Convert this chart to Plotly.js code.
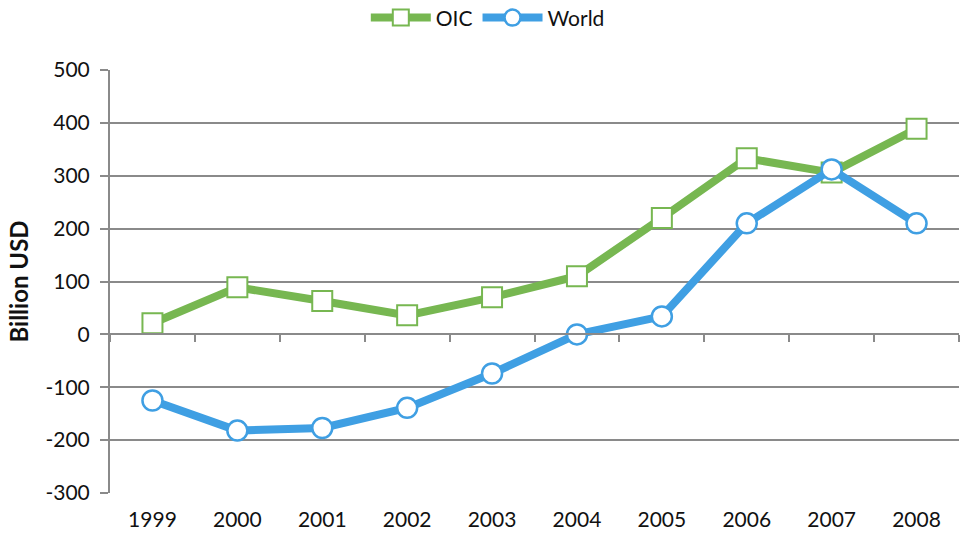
<!DOCTYPE html>
<html>
<head>
<meta charset="utf-8">
<script src="https://cdn.plot.ly/plotly-3.0.1.min.js"></script>
<style>html,body{margin:0;padding:0;background:#fff;}#chart{width:962px;height:533px;}</style>
</head>
<body>
<div id="chart"></div>
<script>
const years = ["1999","2000","2001","2002","2003","2004","2005","2006","2007","2008"];
const oic = [21, 89, 63, 36, 70, 110, 220, 333, 306, 389];
const world = [-125, -182, -177, -139, -74, 0, 34, 210, 312, 210];
const yTicks = [-300, -200, -100, 0, 100, 200, 300, 400, 500];

const green = "#77b751";
const blue = "#3f9fe3";
const grey = "#8a8a8a";
const font = "Lato, 'Open Sans', sans-serif";

const traces = [
  {x: years, y: oic, name: "OIC", type: "scatter", mode: "lines+markers",
   line: {color: green, width: 8},
   marker: {symbol: "square", size: 20, color: "#ffffff", line: {color: green, width: 2}}},
  {x: years, y: world, name: "World", type: "scatter", mode: "lines+markers",
   line: {color: blue, width: 8},
   marker: {symbol: "circle", size: 20, color: "#ffffff", line: {color: blue, width: 2.5}}},
  {x: years, y: years.map(() => null), xaxis: "x2", type: "scatter", mode: "lines",
   showlegend: false, hoverinfo: "skip"}
];

const layout = {
  width: 962, height: 533,
  margin: {l: 110, r: 3, t: 70, b: 40, autoexpand: false},
  paper_bgcolor: "#ffffff", plot_bgcolor: "#ffffff",
  font: {family: font, size: 21, color: "#111111"},
  showlegend: true,
  legend: {orientation: "h", x: 0.445, xanchor: "center", y: 1.123, yanchor: "middle",
           itemwidth: 60, font: {size: 21}, traceorder: "normal"},
  xaxis: {type: "category", categoryarray: years, range: [-0.5, 9.5],
          showline: false, showgrid: false, ticks: "", zeroline: false,
          tickfont: {size: 21}, ticklabelstandoff: 12},
  xaxis2: {type: "category", categoryarray: years, range: [-0.5, 9.5],
           overlaying: "x", anchor: "free", position: 0.375,
           showline: true, linecolor: grey, linewidth: 2,
           ticks: "outside", tickson: "boundaries", ticklen: 7, tickwidth: 2, tickcolor: grey,
           showticklabels: false, showgrid: false, zeroline: false},
  yaxis: {range: [-300, 500], tickvals: yTicks, ticktext: yTicks.map(v => String(v)),
          showgrid: true, gridcolor: grey, gridwidth: 2,
          zeroline: false, showline: true, linecolor: grey, linewidth: 2,
          ticks: "outside", ticklen: 8, tickwidth: 2, tickcolor: grey,
          tickfont: {size: 21}, ticklabelstandoff: 6,
          title: {text: "<b>Billion USD</b>", font: {size: 24}, standoff: 10}}
};

Plotly.newPlot("chart", traces, layout, {displayModeBar: false, staticPlot: true});
</script>
</body>
</html>
